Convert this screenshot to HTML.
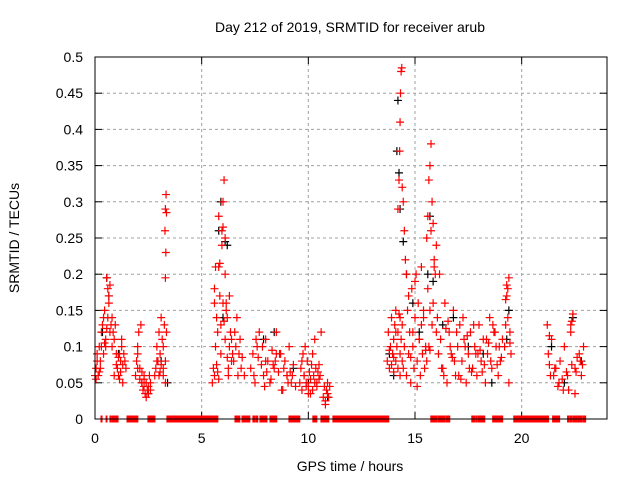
<!DOCTYPE html>
<html><head><meta charset="utf-8"><style>
body{margin:0;background:#fff}
svg{display:block;font-family:"Liberation Sans",Arial,sans-serif}
</style></head><body>
<svg id="chart" width="640" height="480" viewBox="0 0 640 480" xmlns="http://www.w3.org/2000/svg">
<rect width="640" height="480" fill="#fff"/>
<text x="350" y="32" font-size="14" text-anchor="middle">Day 212 of 2019, SRMTID for receiver arub</text>
<text transform="translate(19,238) rotate(-90)" font-size="14" text-anchor="middle">SRMTID / TECUs</text>
<text x="350" y="471" font-size="14" text-anchor="middle">GPS time / hours</text>
<g id="grid"></g>
<g id="ticks"></g>
<g id="zeros"></g>
<g id="black"></g>
<g id="red"></g>
<rect x="95" y="57" width="512" height="362" fill="none" stroke="#000" stroke-width="1"/>
</svg>
<script>
const xTicks=[0,5,10,15,20];
const yTicks=[0,0.05,0.1,0.15,0.2,0.25,0.3,0.35,0.4,0.45,0.5];
const yTickLabels=["0","0.05","0.1","0.15","0.2","0.25","0.3","0.35","0.4","0.45","0.5"];
const zeroRanges=[[0.28,0.33],[0.52,0.56],[0.70,0.75],[0.80,1.08],[1.50,2.01],[2.48,2.81],[3.37,5.76],[6.56,6.79],[6.89,7.26],[7.40,7.49],[7.54,7.63],[7.73,8.06],[8.20,8.52],[9.09,9.60],[10.21,10.40],[10.59,10.96],[11.15,13.77],[15.74,16.02],[16.07,16.39],[16.44,16.63],[17.66,17.80],[17.85,17.89],[17.94,18.27],[18.64,19.11],[19.63,21.26],[21.45,21.78],[22.15,22.20],[22.25,22.34],[22.39,22.58],[22.62,22.81],[22.86,23.00]];
const redT=[0.0,0.05,0.05,0.1,0.15,0.2,0.2,0.25,0.3,0.3,0.35,0.4,0.4,0.45,0.5,0.5,0.55,0.6,0.6,0.65,0.7,0.7,0.75,0.8,0.8,0.85,0.9,0.95,1.0,1.0,1.05,1.1,1.1,1.15,1.2,1.2,1.25,1.3,1.3,1.35,1.4,1.45,
0.1,0.25,0.45,0.55,0.65,0.9,1.15,1.25,
1.9,1.95,2.0,2.0,2.05,2.1,2.15,2.2,2.2,2.25,2.3,2.3,2.35,2.4,2.4,2.45,2.5,2.5,2.55,2.6,2.6,2.0,2.1,2.3,
2.8,2.85,2.9,2.95,3.0,3.0,3.05,3.1,3.1,3.15,3.2,3.2,3.25,3.3,3.3,3.35,3.3,3.32,3.28,3.3,3.33,3.35,2.9,3.05,3.2,
5.5,5.55,5.6,5.6,5.65,5.7,5.7,5.75,5.8,5.8,5.85,5.9,5.9,5.95,6.0,6.0,6.05,6.1,6.1,6.15,6.2,6.2,6.25,6.3,6.3,6.35,6.4,6.45,5.8,5.85,5.95,6.0,6.05,5.6,5.75,6.1,6.15,6.25,6.4,5.65,
6.5,6.55,6.6,6.65,6.7,6.75,6.8,6.85,6.9,7.0,
7.3,7.4,7.5,7.6,7.7,7.8,7.9,8.0,8.1,8.2,8.3,8.4,8.5,8.6,8.7,8.8,8.9,9.0,9.1,9.2,9.3,9.4,7.45,7.65,7.85,8.05,8.25,8.45,8.65,8.85,9.05,9.25,7.55,7.95,8.35,8.75,9.15,8.0,8.5,9.0,
9.6,9.65,9.7,9.75,9.8,9.85,9.9,9.95,10.0,10.05,10.1,10.15,10.2,10.25,10.3,10.35,10.4,10.45,10.5,10.55,9.7,9.9,10.1,10.3,10.5,9.8,10.0,10.2,10.4,10.6,
10.7,10.75,10.8,10.85,10.9,10.95,11.0,10.8,10.9,
13.7,13.75,13.8,13.85,13.9,13.95,14.0,14.0,14.05,14.1,14.1,14.15,14.2,14.2,14.25,14.3,14.3,14.35,14.4,14.4,14.45,14.5,13.8,13.9,14.0,14.1,14.3,14.2,14.25,14.28,14.3,14.32,14.35,14.38,14.4,14.45,14.5,14.55,14.6,
14.6,14.65,14.7,14.75,14.8,14.85,14.9,14.95,15.0,15.05,15.1,15.15,15.2,15.25,15.3,15.35,15.4,15.45,15.5,14.7,14.9,15.1,15.3,15.5,14.8,15.0,15.2,15.4,
15.55,15.6,15.65,15.7,15.75,15.8,15.85,15.9,15.95,16.0,15.6,15.7,15.8,15.9,15.65,15.75,15.85,16.0,15.55,15.7,
16.05,16.1,16.2,16.3,16.4,16.5,16.6,16.7,16.8,16.9,17.0,17.1,17.2,17.3,17.4,17.5,17.6,17.7,17.8,17.9,18.0,18.1,18.2,18.3,18.4,18.5,18.6,18.7,18.8,18.9,19.0,19.1,
16.15,16.35,16.55,16.75,16.95,17.15,17.35,17.55,17.75,17.95,18.15,18.35,18.55,18.75,18.95,16.25,16.65,17.05,17.45,17.85,18.25,18.65,19.05,16.45,16.85,17.25,17.65,18.05,18.45,18.85,
19.2,19.25,19.3,19.35,19.4,19.45,19.5,19.3,19.4,19.35,19.45,19.25,
21.2,21.25,21.3,21.4,21.5,21.6,21.7,21.8,21.9,22.0,22.1,22.2,22.3,22.4,22.5,22.6,22.7,22.8,22.9,21.35,21.55,21.75,21.95,22.15,22.35,22.55,22.75,22.3,22.35,22.5,21.3,22.85];
const redV=[0.06,0.07,0.055,0.09,0.06,0.1,0.065,0.08,0.12,0.1,0.13,0.14,0.09,0.15,0.11,0.1,0.195,0.18,0.14,0.17,0.185,0.12,0.13,0.1,0.14,0.12,0.11,0.13,0.09,0.075,0.07,0.06,0.085,0.09,0.08,0.065,0.1,0.075,0.05,0.09,0.08,0.07,
0.08,0.07,0.105,0.125,0.16,0.06,0.055,0.11,
0.06,0.08,0.1,0.07,0.12,0.055,0.13,0.05,0.065,0.04,0.045,0.06,0.035,0.03,0.05,0.04,0.045,0.035,0.06,0.05,0.04,0.09,0.07,0.055,
0.06,0.07,0.1,0.08,0.12,0.06,0.09,0.14,0.075,0.11,0.06,0.1,0.13,0.08,0.05,0.12,0.195,0.23,0.26,0.29,0.31,0.285,0.08,0.065,0.07,
0.05,0.07,0.18,0.06,0.1,0.14,0.075,0.12,0.21,0.055,0.17,0.09,0.13,0.26,0.3,0.16,0.33,0.11,0.2,0.15,0.085,0.14,0.06,0.1,0.17,0.12,0.08,0.09,0.28,0.215,0.24,0.265,0.135,0.16,0.065,0.25,0.16,0.07,0.11,0.21,
0.08,0.12,0.1,0.14,0.06,0.09,0.11,0.07,0.085,0.06,
0.07,0.09,0.05,0.1,0.12,0.075,0.06,0.11,0.08,0.05,0.095,0.07,0.12,0.065,0.09,0.04,0.08,0.06,0.1,0.05,0.075,0.045,0.06,0.085,0.1,0.065,0.055,0.08,0.09,0.07,0.05,0.06,0.11,0.045,0.075,0.04,0.065,0.08,0.09,0.06,
0.05,0.07,0.04,0.09,0.06,0.1,0.045,0.08,0.035,0.065,0.055,0.075,0.04,0.06,0.05,0.07,0.045,0.065,0.055,0.06,0.08,0.05,0.035,0.11,0.075,0.06,0.045,0.09,0.05,0.12,
0.03,0.045,0.025,0.04,0.05,0.03,0.045,0.02,0.035,
0.08,0.12,0.07,0.1,0.14,0.09,0.11,0.065,0.13,0.08,0.15,0.1,0.07,0.12,0.145,0.09,0.06,0.11,0.13,0.08,0.07,0.1,0.095,0.075,0.085,0.12,0.14,0.29,0.33,0.37,0.41,0.45,0.48,0.485,0.32,0.3,0.26,0.22,0.2,
0.06,0.15,0.09,0.12,0.05,0.18,0.1,0.07,0.14,0.2,0.08,0.16,0.11,0.06,0.13,0.09,0.15,0.07,0.1,0.17,0.12,0.045,0.21,0.095,0.085,0.19,0.11,0.14,
0.25,0.28,0.33,0.35,0.38,0.3,0.27,0.22,0.2,0.24,0.18,0.15,0.13,0.21,0.1,0.26,0.16,0.12,0.08,0.095,
0.14,0.09,0.11,0.07,0.16,0.05,0.12,0.09,0.15,0.06,0.1,0.13,0.08,0.11,0.05,0.09,0.12,0.07,0.1,0.06,0.13,0.08,0.11,0.05,0.09,0.14,0.07,0.12,0.1,0.06,0.08,0.11,
0.2,0.06,0.135,0.085,0.12,0.055,0.1,0.07,0.13,0.09,0.065,0.11,0.08,0.12,0.1,0.07,0.1,0.06,0.115,0.09,0.075,0.13,0.085,0.125,0.08,0.14,0.065,0.095,0.105,0.075,
0.1,0.13,0.17,0.18,0.195,0.12,0.09,0.185,0.05,0.14,0.105,0.165,
0.13,0.09,0.075,0.11,0.06,0.07,0.045,0.08,0.055,0.1,0.065,0.04,0.13,0.145,0.07,0.085,0.09,0.06,0.1,0.06,0.07,0.05,0.04,0.06,0.075,0.065,0.08,0.12,0.135,0.035,0.115,0.075];
const blackT=[0.55,0.65,0.35,1.1,2.2,2.5,3.1,3.4,5.8,5.9,6.1,6.2,6.0,7.9,8.4,9.3,10.0,10.9,14.15,14.2,14.25,14.3,14.45,14.6,14.9,15.2,15.6,15.7,15.85,16.3,16.8,17.5,18.2,18.6,19.3,19.4,21.4,22.0,22.4,22.8,13.8,14.0];
const blackV=[0.195,0.17,0.12,0.09,0.05,0.035,0.08,0.05,0.26,0.3,0.245,0.24,0.14,0.11,0.12,0.07,0.05,0.03,0.37,0.44,0.34,0.29,0.245,0.2,0.16,0.12,0.2,0.28,0.19,0.13,0.14,0.1,0.09,0.05,0.11,0.15,0.1,0.05,0.14,0.08,0.09,0.06];

const X0=95,X1=607,Y0=419,Y1=57,XMAX=24,YMAX=0.5;
const xs=t=>X0+(X1-X0)*t/XMAX;
const ys=v=>Y0-(Y0-Y1)*v/YMAX;
const NS="http://www.w3.org/2000/svg";
function mk(tag,attrs,parent){const e=document.createElementNS(NS,tag);for(const k in attrs)e.setAttribute(k,attrs[k]);parent.appendChild(e);return e;}
const grid=document.getElementById('grid'),ticks=document.getElementById('ticks');
yTicks.forEach((v,i)=>{const y=ys(v);
 if(i>0&&i<yTicks.length-1){const g=mk('line',{x1:X0,x2:X1,y1:y,y2:y,stroke:'#a0a0a0','stroke-dasharray':'3,3'},grid);
 
 }
 mk('line',{x1:X0,x2:X0+7,y1:y,y2:y,stroke:'#000'},ticks);
 mk('line',{x1:X1-7,x2:X1,y1:y,y2:y,stroke:'#000'},ticks);
 const t=mk('text',{x:83,y:y+5,'font-size':14,'text-anchor':'end'},ticks);t.textContent=yTickLabels[i];
 
 
});
xTicks.forEach(v=>{const x=xs(v);
 if(v>0){const g=mk('line',{x1:x,x2:x,y1:Y1,y2:Y0,stroke:'#a0a0a0','stroke-dasharray':'3,3'},grid);
 
 }
 mk('line',{x1:x,x2:x,y1:Y0,y2:Y0-7,stroke:'#000'},ticks);
 mk('line',{x1:x,x2:x,y1:Y1,y2:Y1+7,stroke:'#000'},ticks);
 const t=mk('text',{x:x,y:443,'font-size':14,'text-anchor':'middle'},ticks);t.textContent=String(v);
 
 
});
const zg=document.getElementById('zeros');
zeroRanges.forEach(r=>{const a=xs(r[0])-0.5,b=xs(r[1])+0.5;
 const e=mk('rect',{x:a,y:Y0-3.5,width:b-a,height:7,fill:'#ff0000'},zg);
 
 
});
function plus(g,x,y,c,name){const e=mk('path',{d:`M${x-4} ${y}H${x+4}M${x} ${y-4}V${y+4}`,stroke:c,'stroke-width':1.2,fill:'none'},g);
 
 }
const bg=document.getElementById('black');
blackT.forEach((t,i)=>plus(bg,xs(t),ys(blackV[i]),'#000','black-point'));
const rg=document.getElementById('red');
redT.forEach((t,i)=>plus(rg,xs(t),ys(redV[i]),'#ff0000','red-point'));
</script>
</body></html>
